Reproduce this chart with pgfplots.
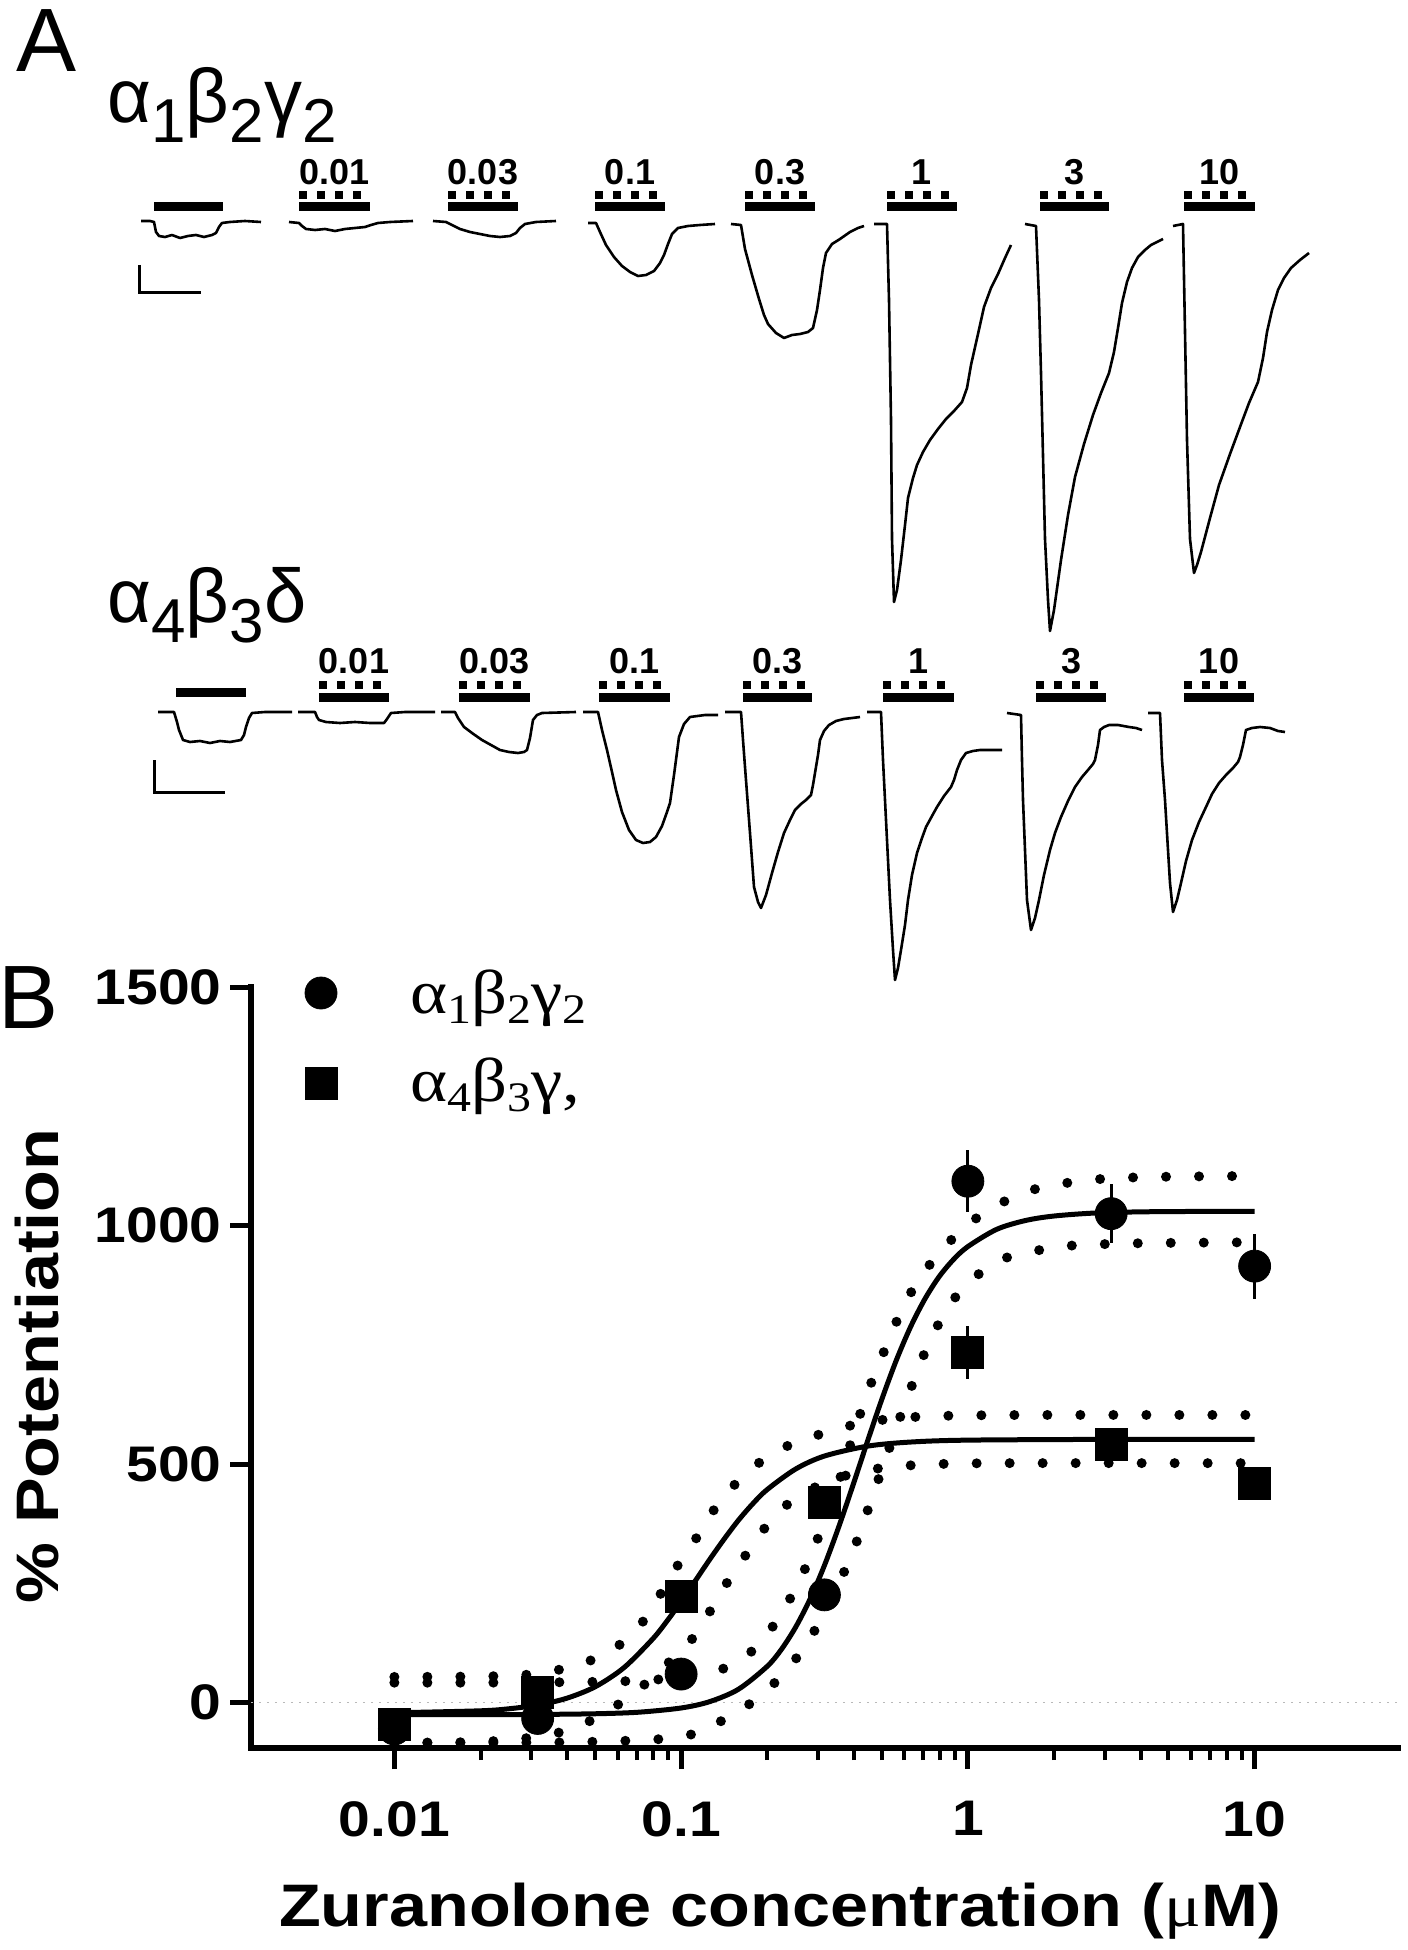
\documentclass[border=0pt]{standalone}
\usepackage{fontspec}
\setmainfont{Liberation Sans}
\newfontfamily\serifgr{Liberation Serif}
\usepackage{graphicx}
\usepackage{pgfplots}
\usepackage{pgfplotstable}
\pgfplotsset{compat=1.18}
\newcommand{\fs}[1]{\fontsize{#1}{#1}\selectfont}
\newcommand{\sx}[1]{\scalebox{1.14}[1]{#1}}
\newcommand{\gsub}[1]{\raisebox{-10pt}{\fs{31}#1}}
\newcommand{\lsub}[1]{\raisebox{-5pt}{\fs{21}#1}}

% ---------- Panel B data ----------
\pgfplotstableread{
x y e
0.01 -55 15
0.0316 -33 20
0.1 60 15
0.316 226 20
1 1093 65
3.16 1025 62
10 915 68
}\circdata
\pgfplotstableread{
x y e
0.01 -45 10
0.0316 22 22
0.1 222 15
0.316 420 18
1 734 56
3.16 542 12
10 460 10
}\squaredata
\pgfplotstableread{
x y
0.01 -25.0
0.01995 -24.9
0.03162 -24.6
0.05012 -23.2
0.07079 -20.0
0.1 -11.1
0.1259 2.3
0.1585 28.2
0.1995 76
0.2239 112
0.2512 159
0.2818 217.5
0.3162 288
0.3548 369
0.3981 457
0.4467 548
0.5012 636
0.5623 717
0.631 787.5
0.7079 846
0.7943 893
0.8913 929
1 956
1.259 992
1.585 1010.5
1.995 1020
2.818 1026.5
4.467 1029.1
10 1030
}\fitA
\pgfplotstableread{
x y
0.01 -21.2
0.01995 -17.0
0.02512 -12.7
0.03162 -4.9
0.03981 9.1
0.05012 33.3
0.0631 73.1
0.07943 133
0.08913 170.5
0.1 212
0.1122 256
0.1259 300.5
0.1413 343
0.1585 382.5
0.1778 417
0.1995 446.6
0.2512 490
0.3162 517
0.4467 537.7
0.631 546.3
1 550.3
3.162 551.9
10 552
}\fitB
\pgfplotstableread{
x y
0.01 42
0.01995 42
0.03981 43
0.0631 45
0.08913 50
0.1122 57
0.1413 72
0.166 95
0.1905 128
0.2188 178
0.2512 240
0.2818 305
0.3162 380
0.3548 462
0.3981 560
0.4467 650
0.5012 725
0.5623 797
0.631 858
0.7079 905
0.7943 941
0.8913 975
1 1003
1.259 1042
1.585 1070
1.995 1085
2.818 1097
4.467 1102
10 1104
}\upA
\pgfplotstableread{
x y
0.01 -84
0.01995 -84
0.03981 -83
0.0631 -80
0.08913 -75
0.1175 -61
0.1445 -31
0.182 6
0.2188 50
0.2512 92
0.2818 135
0.3162 190
0.3548 250
0.3981 318
0.4365 385
0.4786 454
0.5248 523
0.5754 592
0.631 657
0.6918 720
0.7762 785
0.8913 845
1.084 897
1.368 933
1.754 948
2.291 958
3.981 963
10 965
}\loA
\pgfplotstableread{
x y
0.01 54
0.01995 55
0.02818 58
0.03548 66
0.04266 78
0.05129 95
0.0631 128
0.07586 180
0.0871 240
0.1 299
0.1175 360
0.1349 418
0.1622 471
0.1995 515
0.2512 546
0.3236 567
0.4169 585
0.5623 596
0.7943 601
1.585 603
10 603
}\upB
\pgfplotstableread{
x y
0.01 -84
0.01995 -82
0.0302 -73
0.0389 -60
0.04898 -36
0.06166 0
0.07586 42
0.09333 92
0.1122 142
0.1288 201
0.1479 261
0.1738 322
0.2042 380
0.2455 425
0.302 455
0.3802 477
0.5012 492
0.7079 499
1.259 502
10 502
}\loB

% drug bar: #1 left #2 right #3 dots right #4 label centre #5 bar y #6 dots y #7 label y #8 label
\newcommand{\cbar}[8]{%
  \addplot[black, line width=4.5pt] coordinates {(#1,#5)(#2,#5)};
  \addplot[black, line width=4pt, dash pattern=on 4pt off 5pt] coordinates {(#1,#6)(#3,#6)};
  \node[anchor=base, inner sep=0pt, font={\bfseries\fs{18}}] at (axis cs:#4,#7) {#8};
}

\begin{document}
\begin{tikzpicture}
\path[use as bounding box] (0,0) rectangle (704pt,-975pt);

% ================= Panel A (pixel frame) =================
\begin{axis}[at={(0pt,0pt)}, anchor=north west, width=704pt, height=975pt,
  scale only axis, xmin=0, xmax=1408, ymin=-1950, ymax=0, hide axis, clip=false,
  trace/.style={black, line width=1.3pt, line join=round}]

% panel letters and construct labels
\node[anchor=base west, inner sep=0pt, font={\fs{45}}] at (axis cs:16,-72) {A};
\node[anchor=base west, inner sep=0pt, font={\fs{45}}] at (axis cs:-2,-1028) {B};
\node[anchor=base west, inner sep=0pt, font={\fs{38}}] at (axis cs:107,-123) {α\gsub{1}β\gsub{2}γ\gsub{2}};
\node[anchor=base west, inner sep=0pt, font={\fs{38}}] at (axis cs:107,-622) {α\gsub{4}β\gsub{3}δ};

% ---- top row traces (alpha1 beta2 gamma2) ----
\addplot[trace] coordinates {(141,-221)(150,-221)(154,-222)(156,-232)(159,-236)(165,-237)(172,-235)(180,-238)(188,-236)(196,-235)(204,-237)(212,-235)(216,-233)(219,-227)(222,-223)(230,-222)(245,-221)(261,-222)};
\addplot[trace] coordinates {(289,-222)(299,-223)(302,-226)(306,-229)(315,-230)(325,-229)(335,-231)(345,-229)(355,-228)(365,-227)(371,-225)(378,-223)(390,-222)(413,-221)};
\addplot[trace] coordinates {(433,-221)(446,-222)(452,-225)(460,-229)(470,-232)(480,-234)(490,-236)(500,-237)(510,-236)(516,-233)(520,-228)(525,-224)(536,-222)(556,-221)};
\addplot[trace] coordinates {(588,-223)(596,-223)(600,-232)(606,-245)(614,-257)(622,-266)(630,-272)(638,-276)(646,-275)(654,-271)(660,-263)(664,-255)(668,-244)(672,-234)(678,-228)(688,-226)(700,-225)(715,-224)};
\addplot[trace] coordinates {(731,-224)(741,-225)(745,-249)(752,-275)(759,-299)(764,-315)(768,-324)(776,-333)(784,-338)(792,-335)(800,-334)(808,-332)(813,-328)(817,-310)(820,-290)(823,-268)(826,-253)(832,-244)(840,-239)(850,-232)(858,-228)(864,-226)};
\addplot[trace] coordinates {(874,-224)(887,-224)(889,-300)(891,-420)(892,-539)(894,-602)(897,-590)(901,-560)(905,-525)(908,-498)(913,-478)(917,-465)(923,-452)(930,-440)(938,-429)(946,-419)(954,-411)(962,-402)(967,-388)(971,-365)(978,-334)(984,-307)(991,-288)(998,-274)(1005,-258)(1011,-245)};
\addplot[trace] coordinates {(1025,-224)(1036,-226)(1039,-300)(1041,-373)(1045,-539)(1048,-600)(1050,-631)(1054,-610)(1061,-560)(1068,-515)(1075,-477)(1084,-444)(1093,-415)(1101,-393)(1109,-373)(1114,-352)(1118,-328)(1122,-303)(1127,-282)(1132,-268)(1138,-257)(1145,-250)(1151,-245)(1157,-242)(1163,-239)};
\addplot[trace] coordinates {(1173,-226)(1183,-224)(1185,-332)(1187,-440)(1190,-539)(1194,-573)(1197,-565)(1201,-552)(1210,-518)(1219,-485)(1230,-454)(1240,-427)(1249,-403)(1258,-382)(1263,-358)(1267,-332)(1272,-310)(1278,-290)(1284,-278)(1291,-268)(1300,-260)(1309,-253)};

% top row bars
\addplot[black, line width=4.5pt] coordinates {(154,-207)(223,-207)};
\cbar{299}{370}{361}{334.5}{-207}{-195}{-185}{0.01}
\cbar{448}{518}{510}{483}{-207}{-195}{-185}{0.03}
\cbar{595}{665}{657}{630}{-207}{-195}{-185}{0.1}
\cbar{745}{815}{807}{780}{-207}{-195}{-185}{0.3}
\cbar{887}{957}{949}{922}{-207}{-195}{-185}{1}
\cbar{1040}{1109}{1102}{1074.5}{-207}{-195}{-185}{3}
\cbar{1184}{1255}{1246}{1219.5}{-207}{-195}{-185}{10}
% top scale bar
\addplot[black, line width=1.5pt] coordinates {(139,-265)(139,-293)(201,-293)};

% ---- bottom row traces (alpha4 beta3 delta) ----
\addplot[trace] coordinates {(158,-712)(174,-712)(177,-722)(179,-730)(183,-740)(190,-742)(200,-741)(210,-743)(220,-741)(230,-742)(241,-740)(244,-735)(246,-727)(249,-718)(252,-713)(265,-712)(292,-712)};
\addplot[trace] coordinates {(298,-712)(315,-712)(317,-717)(319,-720)(326,-722)(340,-723)(355,-722)(370,-723)(384,-723)(387,-719)(391,-713)(405,-712)(435,-712)};
\addplot[trace] coordinates {(441,-712)(455,-712)(458,-718)(464,-727)(472,-733)(482,-740)(491,-745)(500,-750)(509,-752)(518,-753)(524,-752)(527,-750)(530,-738)(533,-720)(537,-715)(542,-713)(576,-712)};
\addplot[trace] coordinates {(583,-712)(598,-712)(602,-730)(607,-750)(612,-772)(616,-790)(622,-812)(629,-830)(636,-840)(643,-843)(650,-842)(656,-837)(662,-826)(667,-812)(670,-803)(674,-775)(679,-737)(684,-724)(690,-717)(705,-715)(718,-715)};
\addplot[trace] coordinates {(725,-712)(741,-712)(743,-740)(745,-767)(750,-833)(754,-887)(758,-902)(761,-908)(766,-895)(772,-873)(778,-852)(784,-833)(790,-820)(795,-810)(801,-804)(806,-800)(811,-795)(813,-785)(815,-773)(818,-755)(820,-740)(824,-731)(829,-725)(836,-721)(844,-719)(852,-718)(860,-717)};
\addplot[trace] coordinates {(867,-712)(881,-712)(883,-760)(885,-800)(888,-860)(890,-900)(893,-950)(895,-980)(898,-968)(901,-950)(905,-925)(908,-900)(912,-875)(917,-853)(922,-838)(926,-827)(932,-816)(937,-807)(944,-796)(951,-787)(954,-780)(957,-770)(961,-760)(966,-753)(973,-751)(980,-750)(990,-750)(1002,-750)};
\addplot[trace] coordinates {(1007,-713)(1021,-715)(1022,-760)(1023,-800)(1025,-850)(1027,-900)(1031,-930)(1035,-918)(1039,-900)(1044,-875)(1050,-850)(1055,-833)(1061,-817)(1068,-801)(1075,-787)(1082,-777)(1088,-770)(1093,-764)(1095,-760)(1098,-745)(1100,-730)(1104,-727)(1109,-725)(1118,-725)(1129,-727)(1136,-728)(1142,-730)};
\addplot[trace] coordinates {(1148,-713)(1160,-713)(1162,-760)(1165,-800)(1168,-850)(1170,-883)(1173,-912)(1177,-900)(1181,-883)(1186,-861)(1192,-840)(1199,-822)(1206,-807)(1212,-794)(1219,-783)(1226,-775)(1233,-768)(1238,-762)(1240,-757)(1243,-745)(1246,-730)(1252,-728)(1260,-727)(1270,-728)(1278,-731)(1285,-732)};

% bottom row bars
\addplot[black, line width=4.5pt] coordinates {(176,-692)(246,-692)};
\cbar{319}{389}{381}{354}{-697}{-685}{-673}{0.01}
\cbar{459}{530}{521}{494.5}{-697}{-685}{-673}{0.03}
\cbar{599}{670}{661}{634.5}{-697}{-685}{-673}{0.1}
\cbar{743}{812}{805}{777.5}{-697}{-685}{-673}{0.3}
\cbar{883}{954}{945}{918.5}{-697}{-685}{-673}{1}
\cbar{1036}{1106}{1098}{1071}{-697}{-685}{-673}{3}
\cbar{1184}{1254}{1246}{1219}{-697}{-685}{-673}{10}
% bottom scale bar
\addplot[black, line width=1.5pt] coordinates {(154,-760)(154,-792)(225,-792)};

% legend of panel B
\addplot[only marks, mark=*, mark size=8pt, black] coordinates {(321,-993)};
\addplot[only marks, mark=square*, mark size=8pt, black] coordinates {(321,-1083)};
\node[anchor=base west, inner sep=0pt, font={\serifgr\fs{31}}] at (axis cs:410,-1013) {\sx{α\lsub{1}β\lsub{2}γ\lsub{2}}};
\node[anchor=base west, inner sep=0pt, font={\serifgr\fs{31}}] at (axis cs:410,-1101) {\sx{α\lsub{4}β\lsub{3}γ,}};
\end{axis}

% ================= Panel B =================
\begin{axis}[at={(125.5pt,-493.5pt)}, anchor=north west,
  width=573.5pt, height=380.5pt, scale only axis,
  xmode=log, xmin=0.0031623, xmax=31.623, ymin=-95, ymax=1500,
  enlargelimits=false, clip=false,
  axis lines=left, axis line style={-, line width=3pt, line cap=rect},
  tick align=outside, major tick length=10.5pt, minor tick length=6pt,
  tick style={black, line width=2.5pt}, minor tick style={line width=2pt},
  xtick={0.01,0.1,1,10}, xticklabels={\sx{0.01},\sx{0.1},\sx{1},\sx{10}},
  ytick={0,500,1000,1500}, yticklabels={\sx{0},\sx{500},\sx{1000},\sx{1500}},
  xticklabel style={font={\bfseries\fs{25}}, anchor=north, inner sep=0pt, yshift=-16pt},
  yticklabel style={font={\bfseries\fs{25}}, anchor=east, inner sep=0pt, xshift=-4pt},
  xlabel={\sx{Zuranolone concentration ({\serifgr\mdseries μ}M)}},
  ylabel={\sx{\% Potentiation}},
  x label style={font={\bfseries\fs{30}}, at={(axis description cs:0.4612,-0.234)}, anchor=base, inner sep=0pt},
  y label style={font={\bfseries\fs{30}}, at={(axis description cs:-0.168,0.502)}, anchor=base, inner sep=0pt},
  band/.style={black, line width=5pt, line cap=round, dash pattern=on 0pt off 16.5pt, smooth},
  fit/.style={black, line width=2.5pt, smooth}]

\addplot[gray!55, line width=0.8pt, dash pattern=on 1pt off 3pt] coordinates {(0.0031623,0)(31.623,0)};

\addplot[band] table {\upA};
\addplot[band] table {\loA};
\addplot[band] table {\upB};
\addplot[band] table {\loB};
\addplot[fit] table {\fitA};
\addplot[fit] table {\fitB};

\addplot[only marks, mark=*, mark size=8pt, black,
  error bars/.cd, y dir=both, y explicit, error mark=none,
  error bar style={line width=1.4pt}] table[x=x, y=y, y error=e] {\circdata};
\addplot[only marks, mark=square*, mark size=8pt, black,
  error bars/.cd, y dir=both, y explicit, error mark=none,
  error bar style={line width=1.4pt}] table[x=x, y=y, y error=e] {\squaredata};
\end{axis}
\end{tikzpicture}
\end{document}
